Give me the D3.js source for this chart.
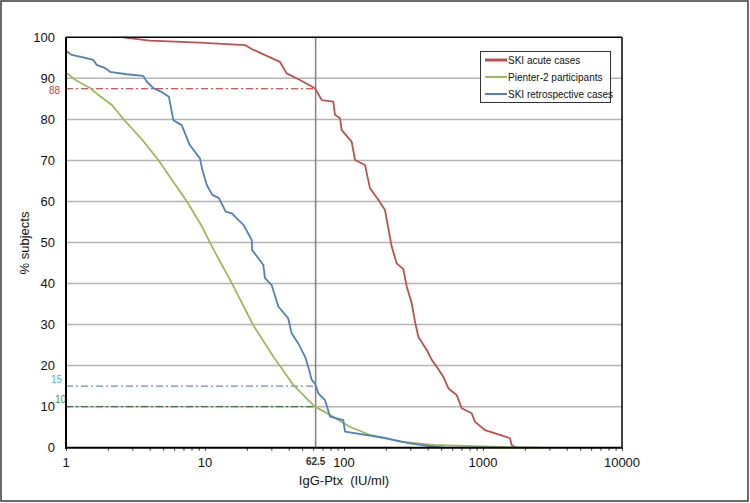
<!DOCTYPE html>
<html><head><meta charset="utf-8">
<script src="https://cdn.jsdelivr.net/npm/d3@7"></script>
<style>body{margin:0;background:#fff}svg{display:block}text{font-family:"Liberation Sans",Arial,sans-serif}</style>
</head><body><svg id="c" width="750" height="503"></svg>
<script>
// Data: [IgG-Ptx (IU/ml), % subjects]
const acuteX = [2.57,4.02,9.2,19.4,20.4,21.8,34.6,38.7,48.2,61.8,69.2,83.8,86.1,93.6,96.2,113.5,120,141.6,153.8,176.5,197.2,220.4,239.4,267.2,282.5,307,324,343,394,428,465,518,563,647,703,829,876,1033,1325,1564,1608,1747];
const acuteY = [100,99.2,98.7,98.1,97.7,97.1,94.0,91.2,89.6,87.6,84.7,84.3,81.1,80.3,77.4,74.6,70.1,68.9,63.2,60.4,57.9,49.0,44.9,43.5,39.3,35.2,30.7,27.0,23.8,21.4,19.7,17.3,14.5,12.8,9.6,8.4,6.3,4.3,3.1,2.3,0.66,0];
const pienterX = [1,1,1.02,1.17,1.50,1.72,2.14,2.60,3.52,4.64,5.79,7.42,9.51,11.55,15.6,22.2,31.0,43.2,55.3,61.8,79.3,110,154,253,439,1325,2700];
const pienterY = [100,91.2,91.2,89.6,87.6,85.9,83.5,80.0,75.1,70.0,65.2,60.0,53.9,48.2,40.1,29.9,22.2,15.3,11.6,10.0,8.0,5.1,3.1,1.5,0.66,0.2,0];
const retroX = [1,1.10,1.33,1.57,1.66,1.91,2.07,2.73,3.60,3.81,4.25,4.87,5.50,5.92,6.80,7.75,9.19,9.57,10.3,11.3,12.6,14.1,15.6,18.9,21.7,21.8,26.3,27.0,30.2,33.7,39.7,42.0,46.9,52.4,55.3,58.6,61.8,65.3,69.1,73.0,79.3,98.9,101.6,203,298,439,533];
const retroY = [96.7,95.7,95.1,94.5,93.3,92.5,91.6,91.0,90.6,89.2,87.6,86.7,85.5,79.8,78.6,73.8,70.5,67.7,64.0,61.6,60.8,57.5,57.1,54.3,50.6,48.2,44.5,41.3,39.6,34.4,31.5,27.9,25.4,22.2,19.7,16.5,15.7,13.3,12.4,11.6,7.6,6.7,3.9,2.3,1.07,0.24,0];
const seriesNames = ["SKI acute cases","Pienter-2 participants","SKI retrospective cases"];
const seriesColors = ["#c0504d","#9bbb59","#4f81bd"];
const xTicks = [1,10,100,1000,10000];
const yTicks = [0,10,20,30,40,50,60,70,80,90,100];
const cutoff = 62.5;
const refLines = [{y:87.5,label:"88",color:"#d9534f",lab:"#e03c3c"},{y:15,label:"15",color:"#6b93c4",lab:"#4bb8d4"},{y:10,label:"10",color:"#2f7d32",lab:"#3c9a3c"}];

const svg = d3.select("#c");
const L=66,R=622,T=37.3,B=447.7;
const x = d3.scaleLog().domain([1,10000]).range([L,R]);
const y = d3.scaleLinear().domain([0,100]).range([B,T]);

svg.append("rect").attr("x",1).attr("y",1).attr("width",747).attr("height",500).attr("fill","none").attr("stroke","#3a3a3a").attr("stroke-width",1.5);

// gridlines
svg.append("g").selectAll("line").data(yTicks.filter(d=>d>0&&d<100)).join("line")
  .attr("x1",L).attr("x2",R).attr("y1",d=>y(d)).attr("y2",d=>y(d)).attr("stroke","#b4b4b4").attr("stroke-width",1.5);

// minor/major x ticks
const tickVals=[];
for(let p=0;p<4;p++) for(let k=1;k<=9;k++) tickVals.push(k*Math.pow(10,p));
tickVals.push(10000);
const xa = d3.axisBottom(x).tickValues(tickVals).tickSize(3).tickFormat("");
const gx = svg.append("g").attr("transform",`translate(0,${B})`).call(xa);
gx.select(".domain").remove();
gx.selectAll("line").attr("stroke","#333").attr("stroke-width",1);

svg.append("g").selectAll("text").data(xTicks).join("text")
  .attr("x",d=>x(d)).attr("y",467).attr("text-anchor","middle").attr("font-size",13).attr("fill","#111").text(d=>d);
svg.append("g").selectAll("text").data(yTicks).join("text")
  .attr("x",55).attr("y",d=>y(d)+4.5).attr("text-anchor","end").attr("font-size",13).attr("fill","#111").text(d=>d);

// cutoff vertical
svg.append("line").attr("x1",x(cutoff)).attr("x2",x(cutoff)).attr("y1",T).attr("y2",B).attr("stroke","#827e8e").attr("stroke-width",1.5);
svg.append("text").attr("x",x(cutoff)).attr("y",465).attr("text-anchor","middle").attr("font-size",10).attr("font-weight","bold").attr("fill","#333").text("62.5");

// reference dash-dot lines
refLines.forEach(r=>{
  svg.append("line").attr("x1",L).attr("x2",x(cutoff)).attr("y1",y(r.y)).attr("y2",y(r.y))
    .attr("stroke",r.color).attr("stroke-width",1.2).attr("stroke-dasharray","7,3,2,3");
});
svg.append("text").attr("x",60).attr("y",94).attr("text-anchor","end").attr("font-size",10).attr("fill",refLines[0].lab).text(refLines[0].label);
svg.append("text").attr("x",62).attr("y",383).attr("text-anchor","end").attr("font-size",10).attr("fill",refLines[1].lab).text(refLines[1].label);
svg.append("text").attr("x",66).attr("y",403).attr("text-anchor","end").attr("font-size",10).attr("fill",refLines[2].lab).text(refLines[2].label);

// series
const line = d3.line().x(d=>x(d[0])).y(d=>y(d[1]));
const all = [[acuteX,acuteY],[pienterX,pienterY],[retroX,retroY]];
all.forEach((s,i)=>{
  const pts = s[0].map((v,j)=>[v,s[1][j]]);
  svg.append("path").datum(pts).attr("d",line).attr("fill","none").attr("stroke",seriesColors[i]).attr("stroke-width",1.8).attr("stroke-linejoin","round");
});

// plot frame
svg.append("line").attr("x1",L).attr("x2",R).attr("y1",T).attr("y2",T).attr("stroke","#000").attr("stroke-width",1.5);
svg.append("line").attr("x1",R).attr("x2",R).attr("y1",T).attr("y2",B).attr("stroke","#000").attr("stroke-width",1.5);
svg.append("line").attr("x1",L).attr("x2",L).attr("y1",T).attr("y2",B+1).attr("stroke","#000").attr("stroke-width",2);
svg.append("line").attr("x1",L-1).attr("x2",R+0.75).attr("y1",B).attr("y2",B).attr("stroke","#000").attr("stroke-width",2);

// axis titles
svg.append("text").attr("x",344).attr("y",484.5).attr("text-anchor","middle").attr("font-size",13).attr("fill","#111").style("white-space","pre").text("IgG-Ptx  (IU/ml)");
svg.append("text").attr("transform","translate(29,243) rotate(-90)").attr("text-anchor","middle").attr("font-size",13).attr("fill","#111").text("% subjects");

// legend
const lg = svg.append("g");
lg.append("rect").attr("x",480.5).attr("y",51.5).attr("width",130).attr("height",51).attr("fill","#fff").attr("stroke","#333").attr("stroke-width",1);
seriesNames.forEach((n,i)=>{
  const yy = 60+i*17;
  lg.append("line").attr("x1",485).attr("x2",507).attr("y1",yy).attr("y2",yy).attr("stroke",seriesColors[i]).attr("stroke-width",i===0?3:2);
  lg.append("text").attr("x",508).attr("y",yy+3.5).attr("font-size",10).attr("fill","#111").text(n);
});
</script></body></html>
